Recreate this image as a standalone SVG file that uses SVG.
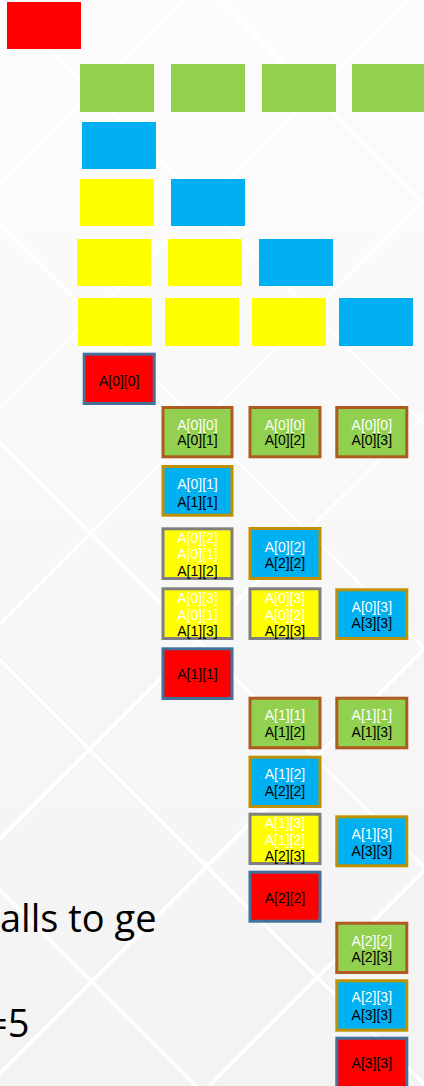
<svg xmlns="http://www.w3.org/2000/svg" width="424" height="1086" viewBox="0 0 424 1086">
<defs>
<linearGradient id="bg" x1="0" y1="0" x2="0" y2="1">
<stop offset="0" stop-color="#fcfcfc"/>
<stop offset="1" stop-color="#f3f3f3"/>
</linearGradient>
<style>
.bgl{stroke:#ffffff;stroke-width:3.5;fill:none}
.r{fill:#ff0000}.g{fill:#92d050}.b{fill:#00b0f0}.y{fill:#ffff00}
.box{stroke-width:3}
.sr{stroke:#41719c}.sg{stroke:#ae5a21}.sb{stroke:#bf9000}.sy{stroke:#7f7f7f}
text.l{font-family:"Liberation Sans",Arial,sans-serif;font-size:14px;text-anchor:middle}
.w{fill:#ffffff}.k{fill:#000000}
text.big{font-family:"Open Sans","Liberation Sans",sans-serif;font-size:38px;fill:#000000}
</style>
</defs>
<rect x="0" y="0" width="424" height="1086" fill="url(#bg)"/>
<g id="background-lines">
<line class="bgl" x1="285" y1="-100" x2="-100" y2="285"/>
<line class="bgl" x1="507" y1="-100" x2="-100" y2="507"/>
<line class="bgl" x1="724" y1="-100" x2="-100" y2="724"/>
<line class="bgl" x1="939" y1="-100" x2="-100" y2="939"/>
<line class="bgl" x1="1173" y1="-100" x2="-100" y2="1173"/>
<line class="bgl" x1="1395" y1="-100" x2="-100" y2="1395"/>
<line class="bgl" x1="120" y1="-100" x2="1300" y2="1080"/>
<line class="bgl" x1="-100" y1="-100" x2="1200" y2="1200"/>
<line class="bgl" x1="-100" y1="124" x2="1200" y2="1424"/>
<line class="bgl" x1="-100" y1="343" x2="1200" y2="1643"/>
<line class="bgl" x1="-100" y1="560" x2="1200" y2="1860"/>
<line class="bgl" x1="-100" y1="790" x2="1200" y2="2090"/>
</g>
<g id="top-blocks">
<rect class="r" x="7" y="2" width="74" height="47"/>
<rect class="g" x="80" y="64" width="74" height="48"/>
<rect class="g" x="171" y="64" width="74" height="48"/>
<rect class="g" x="262" y="64" width="74" height="48"/>
<rect class="g" x="352" y="64" width="74" height="48"/>
<rect class="b" x="82" y="122" width="74" height="47"/>
<rect class="y" x="80" y="179" width="74" height="47"/>
<rect class="b" x="171" y="179" width="74" height="47"/>
<rect class="y" x="77" y="239" width="74" height="47"/>
<rect class="y" x="168" y="239" width="74" height="47"/>
<rect class="b" x="259" y="239" width="74" height="47"/>
<rect class="y" x="78" y="298" width="74" height="48"/>
<rect class="y" x="165" y="298" width="74" height="48"/>
<rect class="y" x="252" y="298" width="74" height="48"/>
<rect class="b" x="339" y="298" width="74" height="48"/>
</g>
<g id="n-a00"><rect class="r box sr" x="84.2" y="354.2" width="70" height="49.3"/><text class="l k" x="119.2" y="385.7">A[0][0]</text></g>
<g id="n-g001"><rect class="g box sg" x="163" y="407.5" width="69" height="49.3"/><text class="l w" x="197.5" y="430.3">A[0][0]</text><text class="l k" x="197.5" y="445.3">A[0][1]</text></g>
<g id="n-g002"><rect class="g box sg" x="250" y="407.5" width="70" height="49.3"/><text class="l w" x="285" y="430.3">A[0][0]</text><text class="l k" x="285" y="445.3">A[0][2]</text></g>
<g id="n-g003"><rect class="g box sg" x="336.8" y="407.5" width="70" height="49.3"/><text class="l w" x="371.8" y="430.3">A[0][0]</text><text class="l k" x="371.8" y="445.3">A[0][3]</text></g>
<g id="n-b011"><rect class="b box sb" x="163" y="466.5" width="69" height="48.7"/><text class="l w" x="197.5" y="489">A[0][1]</text><text class="l k" x="197.5" y="506.7">A[1][1]</text></g>
<g id="n-y012"><rect class="y box sy" x="163" y="528.8" width="69" height="49.7"/><text class="l w" x="197.5" y="543.3">A[0][2]</text><text class="l w" x="197.5" y="559.3">A[0][1]</text><text class="l k" x="197.5" y="576">A[1][2]</text></g>
<g id="n-b022"><rect class="b box sb" x="250" y="528.5" width="70" height="50"/><text class="l w" x="285" y="552.3">A[0][2]</text><text class="l k" x="285" y="568.3">A[2][2]</text></g>
<g id="n-y013"><rect class="y box sy" x="163" y="588.8" width="69" height="49.7"/><text class="l w" x="197.5" y="603.3">A[0][3]</text><text class="l w" x="197.5" y="620">A[0][1]</text><text class="l k" x="197.5" y="636">A[1][3]</text></g>
<g id="n-y023"><rect class="y box sy" x="250" y="588.8" width="70" height="49.7"/><text class="l w" x="285" y="603.3">A[0][3]</text><text class="l w" x="285" y="620">A[0][2]</text><text class="l k" x="285" y="636">A[2][3]</text></g>
<g id="n-b033"><rect class="b box sb" x="336.8" y="589.8" width="70" height="48.7"/><text class="l w" x="371.8" y="611.7">A[0][3]</text><text class="l k" x="371.8" y="628.3">A[3][3]</text></g>
<g id="n-a11"><rect class="r box sr" x="163" y="648.8" width="69" height="49.7"/><text class="l k" x="197.5" y="679">A[1][1]</text></g>
<g id="n-g112"><rect class="g box sg" x="250" y="698.2" width="70" height="49.6"/><text class="l w" x="285" y="720">A[1][1]</text><text class="l k" x="285" y="736.7">A[1][2]</text></g>
<g id="n-g113"><rect class="g box sg" x="336.8" y="698.2" width="70" height="49.6"/><text class="l w" x="371.8" y="720">A[1][1]</text><text class="l k" x="371.8" y="736.7">A[1][3]</text></g>
<g id="n-b122"><rect class="b box sb" x="250" y="757.2" width="70" height="49.3"/><text class="l w" x="285" y="779">A[1][2]</text><text class="l k" x="285" y="795.7">A[2][2]</text></g>
<g id="n-y123"><rect class="y box sy" x="250" y="814.2" width="70" height="49.3"/><text class="l w" x="285" y="828.3">A[1][3]</text><text class="l w" x="285" y="845">A[1][2]</text><text class="l k" x="285" y="860.7">A[2][3]</text></g>
<g id="n-b133"><rect class="b box sb" x="336.8" y="816.8" width="70" height="49"/><text class="l w" x="371.8" y="839">A[1][3]</text><text class="l k" x="371.8" y="855.7">A[3][3]</text></g>
<g id="n-a22"><rect class="r box sr" x="250" y="872.2" width="70" height="49"/><text class="l k" x="285" y="903.3">A[2][2]</text></g>
<g id="n-g223"><rect class="g box sg" x="336.8" y="923.2" width="70" height="49.3"/><text class="l w" x="371.8" y="946">A[2][2]</text><text class="l k" x="371.8" y="962.3">A[2][3]</text></g>
<g id="n-b233"><rect class="b box sb" x="336.8" y="980.8" width="70" height="49.4"/><text class="l w" x="371.8" y="1002.3">A[2][3]</text><text class="l k" x="371.8" y="1020">A[3][3]</text></g>
<g id="n-a33"><rect class="r box sr" x="336.8" y="1038.2" width="70" height="50"/><text class="l k" x="371.8" y="1068.3">A[3][3]</text></g>
<g id="caption">
<text class="big" x="0" y="931.7">alls to ge</text>
<text class="big" x="-14" y="1036.5">=5</text>
</g>
</svg>
